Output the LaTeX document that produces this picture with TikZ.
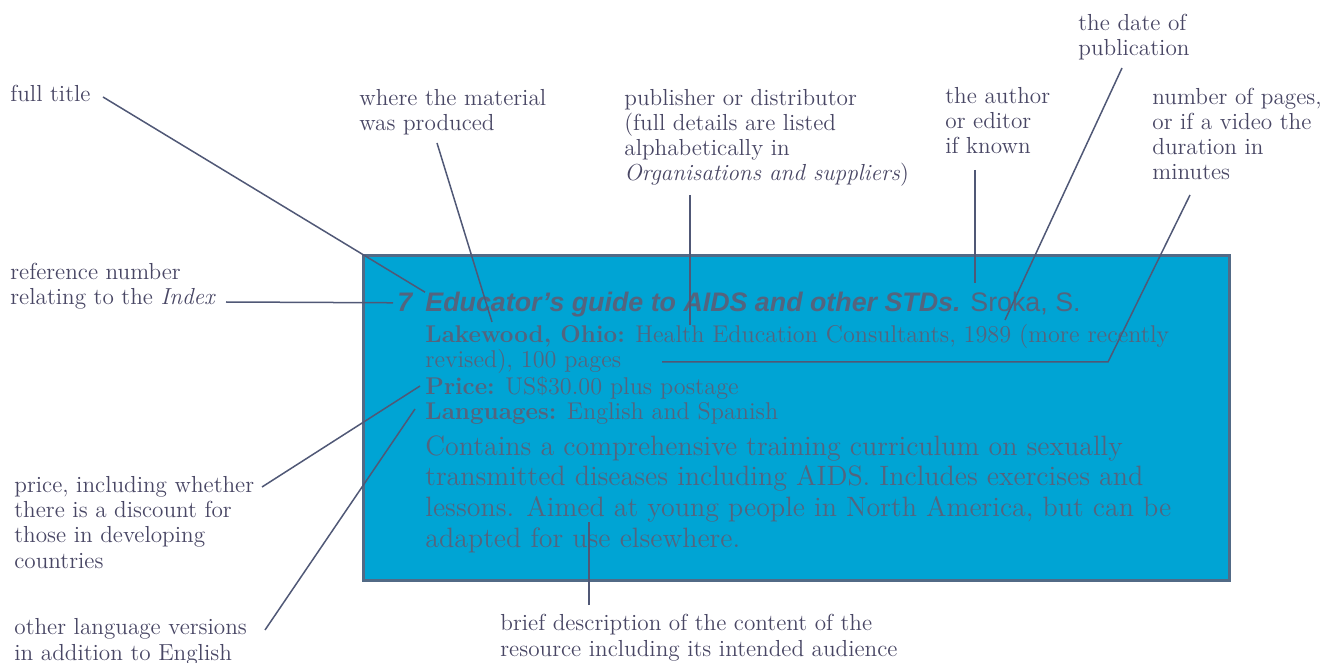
\documentclass[tikz,border=0pt]{standalone}
\usepackage{fontspec}
\newfontfamily\headfont{Liberation Sans}
\definecolor{cardfill}{RGB}{0,164,212}
\definecolor{cardedge}{RGB}{82,106,134}
\definecolor{cardink}{RGB}{84,100,126}
\definecolor{noteink}{RGB}{72,70,100}
\definecolor{leadink}{RGB}{80,88,118}
\tikzset{
  % multi-line nodes sit on the baseline of their last line
  note/.style={anchor=base west, align=left, inner sep=0pt, text=noteink,
    font=\fontsize{11.6}{12.6}\selectfont},
  cardtext/.style={anchor=base west, align=left, inner sep=0pt, text=cardink},
  lead/.style={draw=leadink, line width=0.75pt},
}
\begin{document}
\begin{tikzpicture}[x=0.5pt,y=-0.5pt]
\useasboundingbox (0,0) rectangle (1340,663);
% the sample entry on its blue card
\node[draw=cardedge, line width=1.5pt, fill=cardfill, anchor=north west,
  inner sep=0pt, minimum width=433pt, minimum height=162.5pt] (card) at (362,254) {};
\node[cardtext, font=\headfont\fontsize{13.4}{15}\selectfont\bfseries\itshape] (num) at (397,312) {7};
\node[cardtext, font=\headfont\fontsize{13.4}{15}\selectfont] (title) at (425,312)
  {\textbf{\textit{Educator’s guide to AIDS and other STDs.}} Sroka, S.};
\node[cardtext, font=\fontsize{12.1}{13}\selectfont] (facts) at (425,420)
  {\textbf{Lakewood, Ohio:} Health Education Consultants, 1989 (more recently\\
   revised), 100 pages\\
   \textbf{Price:} US\$30.00 plus postage\\
   \textbf{Languages:} English and Spanish};
\node[cardtext, font=\fontsize{14}{15.3}\selectfont] (blurb) at (425,547)
  {Contains a comprehensive training curriculum on sexually\\
   transmitted diseases including AIDS. Includes exercises and\\
   lessons. Aimed at young people in North America, but can be\\
   adapted for use elsewhere.};
% the labels round it
\node[note] (fulltitle) at (10,102) {full title};
\node[note] (madein) at (359,131) {where the material\\was produced};
\node[note] (issuer) at (624,181) {publisher or distributor\\(full details are listed\\alphabetically in\\\textit{Organisations and suppliers})};
\node[note] (author) at (945,154) {the author\\or editor\\if known};
\node[note] (dated) at (1078,56) {the date of\\publication};
\node[note] (length) at (1152,180) {number of pages,\\or if a video the\\duration in\\minutes};
\node[note] (refnum) at (10,305) {reference number\\relating to the \textit{Index}};
\node[note] (price) at (14,568) {price, including whether\\there is a discount for\\those in developing\\countries};
\node[note] (langs) at (14,660) {other language versions\\in addition to English};
\node[note] (brief) at (500,656) {brief description of the content of the\\resource including its intended audience};
% where the leads start and end
\coordinate (fulltitle-tail) at (103,97);
\coordinate (refnum-tail) at (226,302);
\coordinate (madein-tail) at (437,143);
\coordinate (madein-tip) at (492,322);
\coordinate (issuer-tail) at (690,195);
\coordinate (issuer-tip) at (690,325);
\coordinate (author-tail) at (975,170);
\coordinate (author-tip) at (975,283);
\coordinate (dated-tail) at (1122,68);
\coordinate (dated-tip) at (1005,320);
\coordinate (length-tail) at (1190,195);
\coordinate (length-bend) at (1108,362);
\coordinate (length-tip) at (662,362);
\coordinate (price-tail) at (262,487);
\coordinate (price-tip) at (420,386);
\coordinate (langs-tail) at (265,630);
\coordinate (langs-tip) at (415,409);
\coordinate (brief-tail) at (589,605);
\coordinate (brief-tip) at (589,522);
% the leads
\draw[lead] (fulltitle-tail) -- (title.north west);
\draw[lead] (refnum-tail) -- ([xshift=-2pt]num.west);
\draw[lead] (madein-tail) -- (madein-tip);
\draw[lead] (issuer-tail) -- (issuer-tip);
\draw[lead] (author-tail) -- (author-tip);
\draw[lead] (dated-tail) -- (dated-tip);
\draw[lead] (length-tail) -- (length-bend) -- (length-tip);
\draw[lead] (price-tail) -- (price-tip);
\draw[lead] (langs-tail) -- (langs-tip);
\draw[lead] (brief-tail) -- (brief-tip);
\end{tikzpicture}
\end{document}
